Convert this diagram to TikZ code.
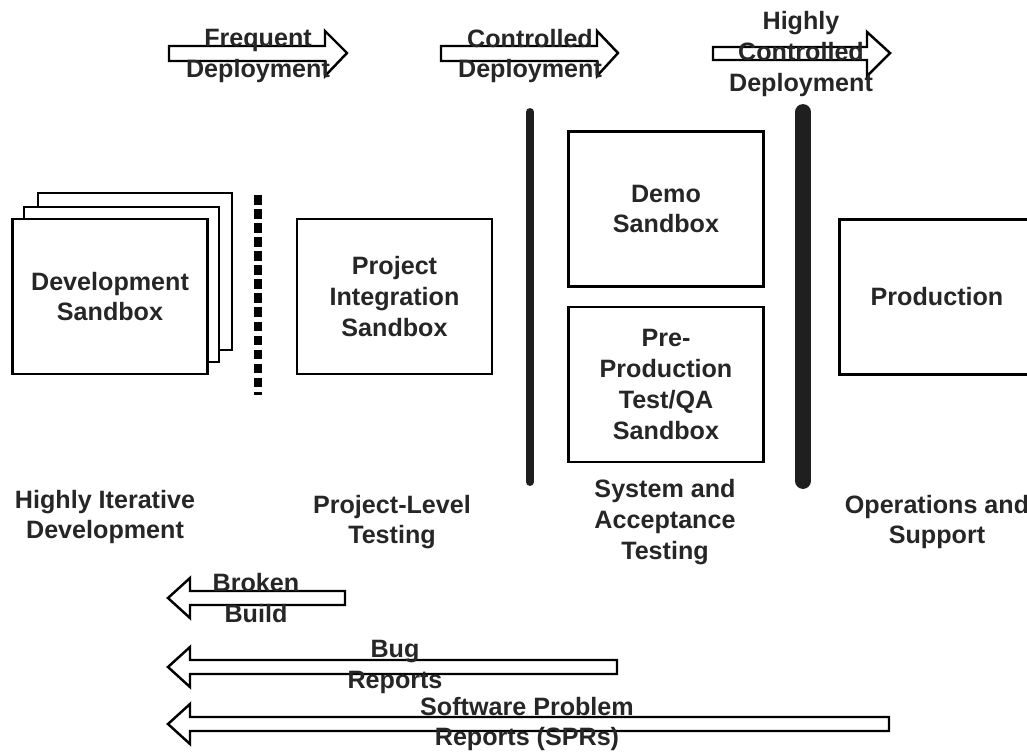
\documentclass[tikz,border=0pt]{standalone}
\usepackage{fontspec}
\setmainfont{Liberation Sans}
\newcommand\boxfont{\fontsize{14.3}{17.5}\bfseries\selectfont}
\begin{document}
\begin{tikzpicture}[x=0.02cm,y=-0.02cm,
  sandbox/.style={draw,line width=1.6pt,fill=white,minimum width=3.9cm,
    minimum height=3.1cm,align=center,font=\boxfont,text=black!85},
  stage/.style={align=center,font=\boxfont,text=black!85},
  blockarrow/.style={draw,line width=1.4pt,fill=white,line join=miter},
  gate/.style={line cap=round,draw=black!88}]
 \clip (0,0) rectangle (1027,755);
 % deployment arrows
 \draw[blockarrow](169,46)--(325,46)--(325,31)--(347,53)--(325,76)--(325,61)--(169,61)--cycle;
 \draw[blockarrow](441,46)--(597,46)--(597,31)--(618,53)--(597,76)--(597,61)--(441,61)--cycle;
 \draw[blockarrow](713,47)--(867,47)--(867,32)--(890,53)--(867,76)--(867,60)--(713,60)--cycle;
 \node[stage] (freq) at (258,56) {Frequent\\Deployment};
 \node[stage] (ctrl) at (530,56) {Controlled\\Deployment};
 \node[stage] (hctrl) at (801,54) {Highly\\Controlled\\Deployment};
 % development sandboxes
 \draw[line width=1.6pt,fill=white](38,193) rectangle (232,350);
 \draw[line width=1.6pt,fill=white](24,207) rectangle (219,362);
 \node[sandbox] (dev) at (110,296.5) {Development\\Sandbox};
 \draw[line width=4pt,dash pattern=on 5.5pt off 2.5pt](258,195)--(258,395);
 \node[sandbox] (proj) at (394.5,296.5) {Project\\Integration\\Sandbox};
 \draw[gate,line width=4.5pt](530,112)--(530,482);
 \node[sandbox] (demo) at (666,209) {Demo\\Sandbox};
 \node[sandbox] (preprod) at (666,384.5) {Pre-\\Production\\Test/QA\\Sandbox};
 \draw[gate,line width=9pt](803,112)--(803,481);
 \node[sandbox] (prod) at (937,297) {Production};
 % stages
 \node[stage] (iter) at (105,517) {Highly Iterative\\Development};
 \node[stage] (projtest) at (392,522) {Project-Level\\Testing};
 \node[stage] (systest) at (665,522) {System and\\Acceptance\\Testing};
 \node[stage] (ops) at (937,522) {Operations and\\Support};
 % feedback arrows
 \draw[blockarrow](345,591)--(190,591)--(190,578)--(168,598)--(190,618)--(190,605)--(345,605)--cycle;
 \draw[blockarrow](617,660)--(190,660)--(190,647)--(168,667)--(190,687)--(190,674)--(617,674)--cycle;
 \draw[blockarrow](889,717)--(190,717)--(190,704)--(168,724)--(190,744)--(190,731)--(889,731)--cycle;
 \node[stage] (broken) at (256,598) {Broken\\Build};
 \node[stage] (bug) at (395,667) {Bug\\Reports};
 \node[stage] (spr) at (527,724) {Software Problem\\Reports (SPRs)};
\end{tikzpicture}
\end{document}
